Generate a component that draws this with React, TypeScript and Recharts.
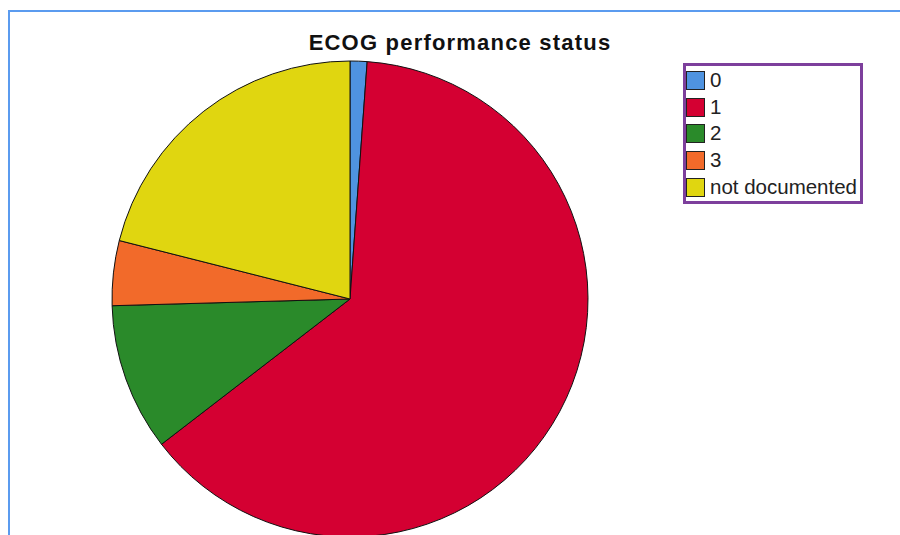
import React from 'react';
import { PieChart, Pie, Cell, Legend } from 'recharts';

// ECOG categories and their share (%)
const categories = ['0', '1', '2', '3', 'not documented'];
const shares = [1.15, 63.4, 10.0, 4.4, 21.05];
const colors = ['#4f93e0', '#d40032', '#2a8a2a', '#f26a2a', '#e0d610'];

const data = categories.map((name, i) => ({ name, value: shares[i] }));

const renderLegend = () => (
  <div
    style={{
      width: 174,
      height: 134,
      border: '3px solid #7d3f9c',
      background: '#fff',
      fontFamily: 'Liberation Sans, Arial, sans-serif',
      fontSize: 20.5,
      color: '#222',
      boxSizing: 'content-box',
      paddingTop: 1,
    }}
  >
    {categories.map((c) => (
      <div key={c} style={{ display: 'flex', alignItems: 'center', height: 26.7 }}>
        <span
          style={{
            width: 17,
            height: 17,
            background: colors[c === '' ? 0 : categories.indexOf(c)],
            border: '1.5px solid #222',
            marginRight: 5,
            display: 'inline-block',
            flexShrink: 0,
          }}
        />
        <span style={{ lineHeight: 1 }}>{c}</span>
      </div>
    ))}
  </div>
);

export default function App() {
  return (
    <div style={{ position: 'absolute', left: 0, top: 0, width: 900, height: 535, overflow: 'hidden', background: '#fff' }}>
      {/* frame edge of the original viewer */}
      <div style={{ position: 'absolute', left: 8, top: 10, width: 900, height: 600, borderLeft: '2px solid #5b9bef', borderTop: '2px solid #5b9bef' }} />
      <div style={{ position: 'absolute', left: 0, top: 0 }}>
        <PieChart width={900} height={535} margin={{ top: 0, right: 0, bottom: 0, left: 0 }}>
          <text
            x={460}
            y={50}
            textAnchor="middle"
            style={{ fontFamily: 'Liberation Sans, Arial, sans-serif', fontSize: 22, letterSpacing: 1.2, fontWeight: 'bold', fill: '#111' }}
          >
            ECOG performance status
          </text>
          <Pie
            data={data}
            dataKey="value"
            nameKey="name"
            cx={350}
            cy={299}
            outerRadius={238}
            startAngle={90}
            endAngle={-270}
            stroke="#111"
            strokeWidth={1}
            isAnimationActive={false}
          >
            {data.map((d, i) => (
              <Cell key={d.name} fill={colors[i]} />
            ))}
          </Pie>
          <Legend
            content={renderLegend}
            layout="vertical"
            verticalAlign="top"
            align="right"
            wrapperStyle={{ left: 683, top: 63, width: 180 }}
          />
        </PieChart>
      </div>
    </div>
  );
}
